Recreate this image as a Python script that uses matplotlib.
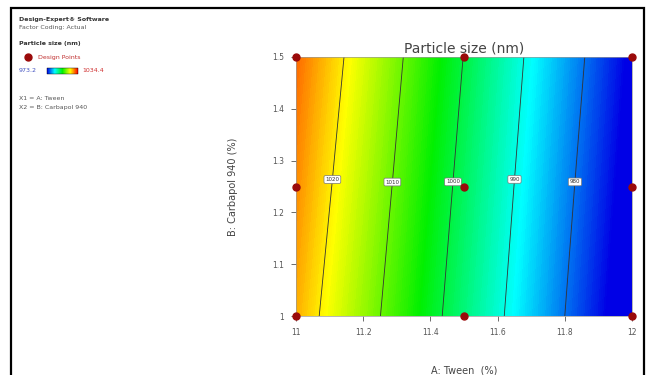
"""Particle size contour plot (Design-Expert style)."""

import matplotlib

matplotlib.use("Agg")
import matplotlib.pyplot as plt
import numpy as np
from matplotlib.colors import LinearSegmentedColormap, Normalize
from matplotlib.cm import ScalarMappable
from matplotlib.patches import Rectangle

# model grid
tween = [11.0, 11.2, 11.4, 11.6, 11.8, 12.0]
carbapol = [1.0, 1.25, 1.5]
size_y100 = [1023.8, 1012.8, 1001.9, 991.1, 980.0, 969.0]
size_y125 = [1025.9, 1014.8, 1003.6, 992.7, 981.6, 970.6]
size_y150 = [1028.0, 1016.8, 1005.4, 994.3, 983.3, 972.2]

contour_levels = [980, 990, 1000, 1010, 1020]
label_spots = [(11.10, 1.264), (11.28, 1.259), (11.466, 1.259), (11.645, 1.264), (11.827, 1.259)]

design_x = [11, 11, 11, 11.5, 11.5, 11.5, 12, 12, 12]
design_y = [1, 1.25, 1.5, 1, 1.25, 1.5, 1, 1.25, 1.5]

size_min, size_max = 973.2, 1034.4

x_ticks = [11, 11.2, 11.4, 11.6, 11.8, 12]
y_ticks = [1, 1.1, 1.2, 1.3, 1.4, 1.5]

grey = "#555555"
point_red = "#9a0a0a"

cmap = LinearSegmentedColormap.from_list(
    "de", ["#0000e6", "#00ffff", "#00f000", "#ffff00", "#ff0000"]
)
norm = Normalize(size_min, size_max)

fig = plt.figure(figsize=(6.51, 3.75), dpi=100)

# outer frame
fig.patches.append(
    Rectangle((11 / 651, -0.05), (644 - 11) / 651, 1.05 - 8 / 375,
              transform=fig.transFigure, fill=False, ec="black", lw=1.6)
)

ax = fig.add_axes([296 / 651, 1 - 316 / 375, 336 / 651, 259 / 375])
X, Y = np.meshgrid(tween, carbapol)
Z = np.array([size_y100, size_y125, size_y150])
fill_levels = np.linspace(size_min, size_max, 200)
ax.contourf(X, Y, Z, levels=fill_levels, cmap=cmap, norm=norm, extend="both")
cs = ax.contour(X, Y, Z, levels=contour_levels, colors="#333333", linewidths=0.6)
labels = ax.clabel(cs, inline=False, fmt="%d", fontsize=4, colors="#333333",
                   manual=label_spots)
for t in labels:
    t.set_rotation(0)
    t.set_bbox(dict(boxstyle="round,pad=0.25", fc="white", ec="#777777", lw=0.5))

ax.plot(design_x, design_y, "o", color=point_red, ms=5, clip_on=False, zorder=10)

ax.set_xlim(11, 12)
ax.set_ylim(1, 1.5)
ax.set_xticks(x_ticks)
ax.set_xticklabels(["11", "11.2", "11.4", "11.6", "11.8", "12"])
ax.set_yticks(y_ticks)
ax.set_yticklabels(["1", "1.1", "1.2", "1.3", "1.4", "1.5"])
ax.tick_params(labelsize=5.5, colors=grey, length=3.5, width=0.6, pad=5)
for s in ax.spines.values():
    s.set_color("#999999")
    s.set_linewidth(0.5)

ax.set_title("Particle size (nm)", fontsize=10, color="#444444", pad=3)
ax.set_xlabel("A: Tween  (%)", fontsize=7, color="#444444")
ax.xaxis.set_label_coords(0.5, -0.19)
ax.set_ylabel("B: Carbapol 940 (%)", fontsize=7, color="#444444")
ax.yaxis.set_label_coords(-0.173, 0.5)

# left-hand info block
def ftext(px, py, s, **kw):
    fig.text(px / 651, 1 - py / 375, s, va="center", ha="left", **kw)

ftext(19, 19, "Design-Expert® Software", fontsize=4.5, fontweight="bold", color="#333333")
ftext(19, 28, "Factor Coding: Actual", fontsize=4.5, color="#555555")
ftext(19, 44, "Particle size (nm)", fontsize=4.5, fontweight="bold", color="#333333")
fig.lines.append(plt.Line2D([28 / 651], [1 - 57 / 375], marker="o", ms=5,
                            color=point_red, transform=fig.transFigure))
ftext(38, 57, "Design Points", fontsize=4.5, color="#c03030")
ftext(19, 71, "973.2", fontsize=4.5, color="#4050c0")
cax = fig.add_axes([47 / 651, 1 - 74 / 375, 31 / 651, 6 / 375])
cb = fig.colorbar(ScalarMappable(norm=norm, cmap=cmap), cax=cax, orientation="horizontal")
cb.set_ticks([])
cb.outline.set_linewidth(0.3)
ftext(82, 71, "1034.4", fontsize=4.5, color="#d03030")
ftext(19, 99, "X1 = A: Tween", fontsize=4.5, color="#555555")
ftext(19, 108, "X2 = B: Carbapol 940", fontsize=4.5, color="#555555")

fig.savefig("out.png", dpi=100)
